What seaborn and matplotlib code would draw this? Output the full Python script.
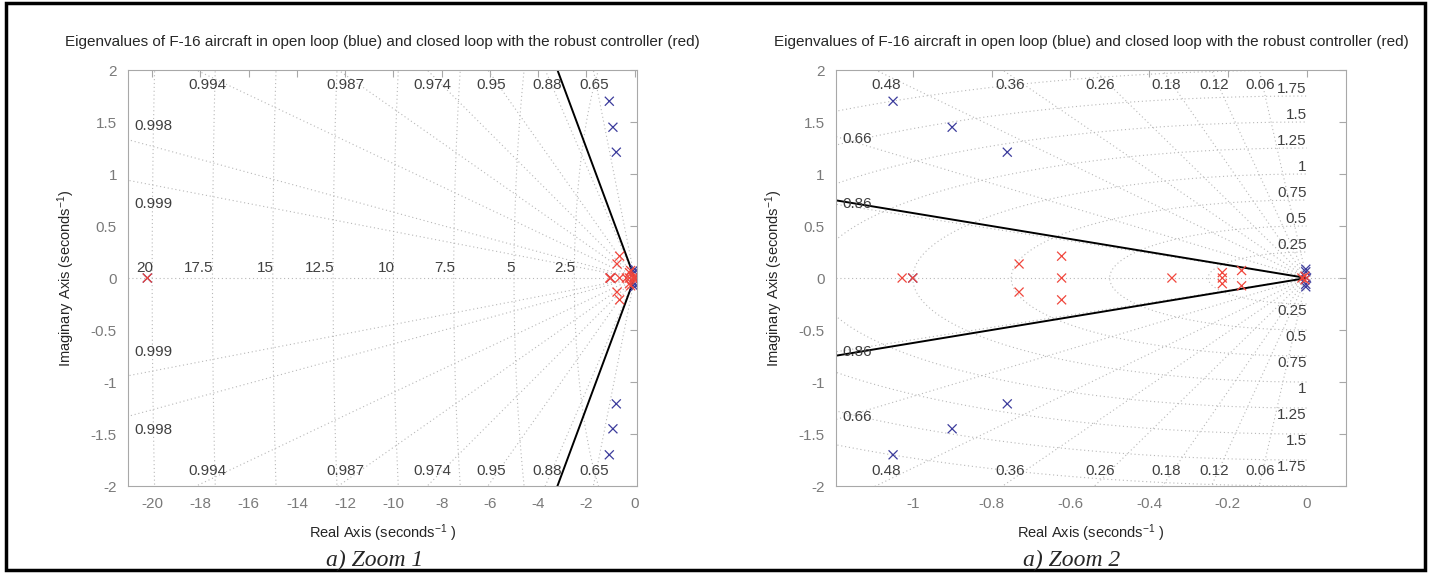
import numpy as np
import pandas as pd
import matplotlib
matplotlib.use("Agg")
import matplotlib.pyplot as plt
import seaborn as sns
from matplotlib.patches import Rectangle

# open loop eigenvalues (blue)
ol_re = [-20.2, -1.05, -1.05, -0.90, -0.90, -0.76, -0.76, -1.0,
         -0.002, -0.002, -0.002, -0.002, 0.0]
ol_im = [0.0, 1.70, -1.70, 1.45, -1.45, 1.21, -1.21, 0.0,
         0.085, -0.085, 0.06, -0.06, 0.0]

# closed loop with the robust controller (red)
cl_re = [-20.2, -1.027, -1.0, -0.73, -0.73, -0.622, -0.622, -0.622,
         -0.342, -0.214, -0.214, -0.214, -0.165, -0.165,
         -0.012, -0.004, -0.004]
cl_im = [0.0, 0.0, 0.0, 0.135, -0.135, 0.21, 0.0, -0.21,
         0.0, 0.052, 0.0, -0.055, 0.072, -0.075,
         0.0, 0.018, -0.018]

# sgrid of each zoom
zeta_1 = [0.65, 0.88, 0.95, 0.974, 0.987, 0.994, 0.998, 0.999]
wn_1 = [2.5, 5, 7.5, 10, 12.5, 15, 17.5, 20]
zeta_2 = [0.06, 0.12, 0.18, 0.26, 0.36, 0.48, 0.66, 0.86]
wn_2 = [0.25, 0.5, 0.75, 1.0, 1.25, 1.5, 1.75, 2.0]

# robust controller region boundary (point on upper line)
sector_re = -3.2
sector_im = 2.0

title = ("Eigenvalues of F-16 aircraft in open loop (blue) and closed loop "
         "with the robust controller (red)")

sns.set_style("white")
plt.rcParams['font.family'] = ['Liberation Sans', 'DejaVu Sans']
plt.rcParams['mathtext.default'] = 'regular'
plt.rcParams['axes.unicode_minus'] = False

df = pd.concat([
    pd.DataFrame({'re': ol_re, 'im': ol_im, 'loop': 'open'}),
    pd.DataFrame({'re': cl_re, 'im': cl_im, 'loop': 'closed'}),
])
pal = {'open': '#3c3c9c', 'closed': '#f0463c'}

gridc = '#b8b8b8'
gls = (0, (1, 2.5))
labc = '#404040'


def zeta_slope(z):
    return np.sqrt(1 - z ** 2) / z


def draw_panel(ax, zetas, wns, xlim, side_y, wn_on_real):
    R = 100.0
    for z in zetas:
        t = zeta_slope(z)
        for sgn in (1, -1):
            ax.plot([0, -R * z], [0, sgn * R * np.sqrt(1 - z ** 2)],
                    color=gridc, ls=gls, lw=0.8, zorder=1)
        xc = -1.95 / t
        if xc > xlim[0] + 0.02 * (xlim[1] - xlim[0]):
            for sgn in (1, -1):
                ax.text(xc, sgn * 1.86, f"{z:g}", ha='center', va='center',
                        fontsize=11, color=labc, zorder=3)
        else:
            x0 = xlim[0] + 0.012 * (xlim[1] - xlim[0])
            yy = side_y[z]
            for sgn in (1, -1):
                ax.text(x0, sgn * yy, f"{z:g}", ha='left', va='center',
                        fontsize=11, color=labc, zorder=3)
    th = np.linspace(-np.pi / 2, np.pi / 2, 400)
    for w in wns:
        ax.plot(-w * np.cos(th), w * np.sin(th), color=gridc, ls=gls,
                lw=0.8, zorder=1)
        if wn_on_real:
            ax.text(-w + 0.05, 0.03, f"{w:g}", ha='right', va='bottom',
                    fontsize=11, color=labc, zorder=3)
        elif w < 1.9:
            ax.text(0, w, f"{w:g}", ha='right', va='bottom',
                    fontsize=11, color=labc, zorder=3)
            ax.text(0, -w, f"{w:g}", ha='right', va='top',
                    fontsize=11, color=labc, zorder=3)
    ax.axhline(0, color=gridc, ls=gls, lw=0.8, zorder=1)

    k = 30
    ax.plot([k * sector_re, 0, k * sector_re],
            [k * sector_im, 0, -k * sector_im], color='black', lw=1.4,
            zorder=2)

    sns.scatterplot(data=df, x='re', y='im', hue='loop', palette=pal,
                    hue_order=['open', 'closed'], marker='x', s=42,
                    linewidth=0.9, legend=False, ax=ax, zorder=4)

    ax.set_xlim(*xlim)
    ax.set_ylim(-2, 2)
    ax.set_yticks(np.arange(-2, 2.01, 0.5))
    ax.set_yticklabels([f"{v:g}" for v in np.arange(-2, 2.01, 0.5)])
    ax.set_title(title, fontsize=11, pad=17)
    ax.set_xlabel("Real Axis (seconds$^{-1}$ )", fontsize=10.5, labelpad=8)
    ax.set_ylabel("Imaginary Axis (seconds$^{-1}$)", fontsize=10.5,
                  labelpad=10)
    for sp in ax.spines.values():
        sp.set_color('#a8a8a8')
        sp.set_linewidth(0.8)
    ax.tick_params(direction='in', top=True, right=True, length=5,
                   color='#a8a8a8', labelcolor='#7a7a7a', labelsize=11,
                   pad=8)


fig = plt.figure(figsize=(14.29, 5.73), dpi=100)
ax1 = fig.add_axes([0.0896, 0.1518, 0.3562, 0.726])
ax2 = fig.add_axes([0.585, 0.1518, 0.3569, 0.726])

draw_panel(ax1, zeta_1, wn_1, (-21.0, 0.1), {0.998: 1.46, 0.999: 0.71}, True)
ax1.set_xticks(np.arange(-20, 0.1, 2))
ax1.set_xticklabels([f"{v:g}" for v in np.arange(-20, 0.1, 2)])

draw_panel(ax2, zeta_2, wn_2, (-1.195, 0.1), {0.66: 1.34, 0.86: 0.71}, False)
xt = [-1, -0.8, -0.6, -0.4, -0.2, 0]
ax2.set_xticks(xt)
ax2.set_xticklabels([f"{v:g}" for v in xt])

fig.text(0.262, 0.022, "a) Zoom 1", family='Liberation Serif',
         style='italic', fontsize=17, ha='center', va='center')
fig.text(0.750, 0.022, "a) Zoom 2", family='Liberation Serif',
         style='italic', fontsize=17, ha='center', va='center')

fig.patches.append(Rectangle((0.004, 0.006), 0.993, 0.988,
                             transform=fig.transFigure, fill=False,
                             edgecolor='black', lw=2.5))

fig.savefig("out.png", dpi=100)
